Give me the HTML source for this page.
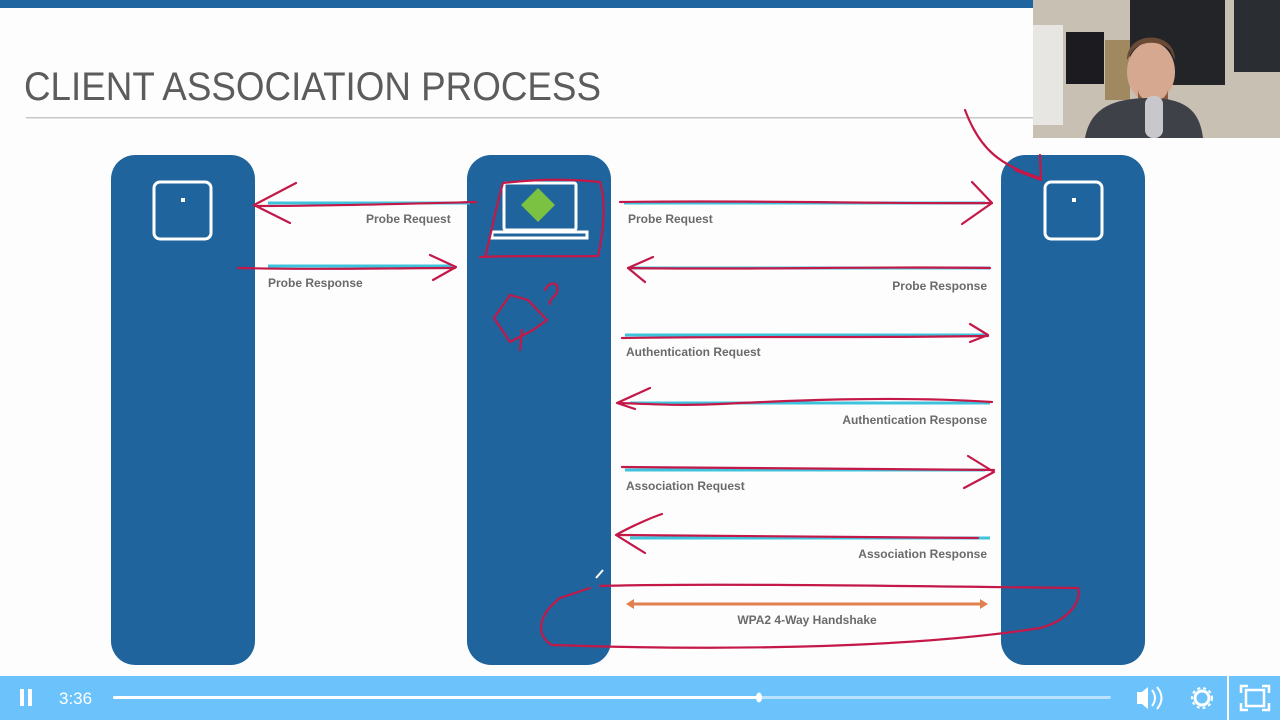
<!DOCTYPE html>
<html><head><meta charset="utf-8"><style>
html,body{margin:0;padding:0;background:#fdfdfd;}
svg{display:block}
text{font-family:"Liberation Sans",sans-serif;}
</style></head><body>
<svg width="1280" height="720" viewBox="0 0 1280 720" xmlns="http://www.w3.org/2000/svg">
<rect width="1280" height="720" fill="#fdfdfd"/>
<rect x="0" y="0" width="1033" height="8" fill="#1f66a0"/>
<text x="24" y="100" font-size="40" fill="#5c5c5c" textLength="577" lengthAdjust="spacingAndGlyphs">CLIENT ASSOCIATION PROCESS</text>
<rect x="26" y="117" width="1010" height="1.5" fill="#c8c8c8"/>

<g fill="#1f649c">
<rect x="111" y="155" width="144" height="510" rx="24"/>
<rect x="467" y="155" width="144" height="510" rx="24"/>
<rect x="1001" y="155" width="144" height="510" rx="24"/>
</g>
<g fill="none" stroke="#fff" stroke-width="3">
<rect x="154" y="182" width="57" height="57" rx="6"/>
<rect x="1045" y="182" width="57" height="57" rx="6"/>
<rect x="504" y="183" width="72" height="47" rx="2"/>
<path d="M492 232 h95 v6 h-95 z"/>
</g>
<rect x="181" y="198" width="4" height="4" fill="#fff"/>
<rect x="1072" y="198" width="4" height="4" fill="#fff"/>
<rect x="526" y="193" width="24" height="24" fill="#7cc242" transform="rotate(45 538 205)"/>

<g stroke="#3ec3dc" stroke-width="3">
<line x1="268" y1="203" x2="470" y2="203"/>
<line x1="268" y1="266" x2="452" y2="266"/>
<line x1="624" y1="203" x2="985" y2="203"/>
<line x1="630" y1="268" x2="990" y2="268"/>
<line x1="625" y1="335" x2="985" y2="335"/>
<line x1="630" y1="403" x2="990" y2="403"/>
<line x1="625" y1="470" x2="985" y2="470"/>
<line x1="630" y1="538" x2="990" y2="538"/>
</g>
<line x1="632" y1="604" x2="982" y2="604" stroke="#e08050" stroke-width="3"/>
<path d="M626 604 l8 -5 v10 z M988 604 l-8 -5 v10 z" fill="#e08050"/>

<g font-size="12" font-weight="bold" fill="#6a6a6a">
<text x="366" y="223">Probe Request</text>
<text x="268" y="287">Probe Response</text>
<text x="628" y="223">Probe Request</text>
<text x="987" y="290" text-anchor="end">Probe Response</text>
<text x="626" y="356">Authentication Request</text>
<text x="987" y="424" text-anchor="end">Authentication Response</text>
<text x="626" y="490">Association Request</text>
<text x="987" y="558" text-anchor="end">Association Response</text>
<text x="807" y="624" text-anchor="middle">WPA2 4-Way Handshake</text>
</g>

<g fill="none" stroke="#c41848" stroke-width="2.2" stroke-linecap="round" stroke-linejoin="round">
<path d="M476 202 C400 204 330 206 255 206"/>
<path d="M296 183 L254 205 L290 223"/>
<path d="M238 268 C320 270 390 268 455 268"/>
<path d="M430 255 L456 267 L433 280"/>
<path d="M620 202 C760 200 880 204 992 203"/>
<path d="M972 182 L992 203 L962 224"/>
<path d="M990 268 C880 266 760 270 628 268"/>
<path d="M653 257 L628 268 L645 282"/>
<path d="M622 338 C760 336 880 338 988 336"/>
<path d="M970 324 L988 335 L970 342"/>
<path d="M992 402 C900 396 800 400 720 404 C680 406 650 404 618 403"/>
<path d="M650 388 L617 403 L635 409"/>
<path d="M622 467 C760 467 880 469 994 470"/>
<path d="M968 456 L994 472 L964 488"/>
<path d="M978 538 C880 537 760 537 618 535"/>
<path d="M662 514 C650 518 628 528 616 535 L645 553"/>
<path d="M600 586 C700 583 900 586 1078 588 C1082 600 1070 620 1040 628 C900 650 700 650 552 645 C535 635 538 615 560 598 L590 588"/>
<path d="M480 257 C520 255 560 257 598 256 C604 230 606 200 600 182 C560 178 530 180 503 183 C495 210 490 240 485 257"/>
<path d="M510 295 L494 318 L510 342 L533 330 L547 320 L528 300 Z M522 330 L520 350"/>
<path d="M545 290 C550 280 560 282 557 292 C555 298 549 298 550 304"/>
<path d="M965 110 C980 150 1000 165 1040 178"/>
<path d="M1040 155 L1041 180 L1015 170"/>
</g>
<line x1="596" y1="578" x2="603" y2="570" stroke="#fff" stroke-width="2"/>

<rect x="1033" y="0" width="247" height="138" fill="#c9c0b4"/>
<rect x="1033" y="25" width="30" height="100" fill="#e8e6e2"/>
<rect x="1066" y="32" width="38" height="52" fill="#1c1c20"/>
<rect x="1130" y="0" width="95" height="85" fill="#222428"/>
<rect x="1234" y="0" width="46" height="72" fill="#2a2d32"/>
<rect x="1105" y="40" width="25" height="60" fill="#a08860"/>
<ellipse cx="1151" cy="72" rx="24" ry="30" fill="#d6a890"/>
<path d="M1127 60 C1127 30 1175 30 1175 60 L1170 50 C1160 40 1140 40 1132 52 Z" fill="#6a4a34"/>
<path d="M1138 90 C1140 105 1165 105 1168 90 L1168 100 C1160 110 1142 110 1138 100 Z" fill="#8a5a40"/>
<path d="M1085 138 C1090 110 1110 98 1150 98 C1190 98 1200 115 1203 138 Z" fill="#3e4248"/>
<rect x="1145" y="96" width="18" height="42" rx="8" fill="#c8c8cc"/>

<rect x="0" y="676" width="1227" height="44" fill="#6cc3fb"/>
<rect x="1229" y="676" width="51" height="44" fill="#6cc3fb"/>
<rect x="20" y="689" width="4" height="17" fill="#fff"/>
<rect x="28" y="689" width="4" height="17" fill="#fff"/>
<text x="59" y="704" font-size="17" fill="#fff">3:36</text>
<rect x="113" y="696" width="998" height="3" rx="1.5" fill="#b8e2fd"/>
<rect x="113" y="696" width="645" height="3" rx="1.5" fill="#fff"/>
<ellipse cx="759" cy="697.5" rx="3" ry="5" fill="#fff"/>
<path d="M1137 692 h5 l6 -5 v22 l-6 -5 h-5 z" fill="#fff"/>
<path d="M1152 690 q6 8 0 16 M1157 687 q9 11 0 22" stroke="#fff" stroke-width="2" fill="none"/>
<circle cx="1202" cy="698" r="7" fill="none" stroke="#fff" stroke-width="3"/>
<circle cx="1202" cy="698" r="10" fill="none" stroke="#fff" stroke-width="2" stroke-dasharray="3 3"/>
<g fill="none" stroke="#fff" stroke-width="2.5">
<path d="M1241 693 v-7 h7 M1262 686 h7 v7 M1269 703 v7 h-7 M1248 710 h-7 v-7"/>
<rect x="1246" y="690" width="18" height="16"/>
</g>
</svg>
</body></html>
